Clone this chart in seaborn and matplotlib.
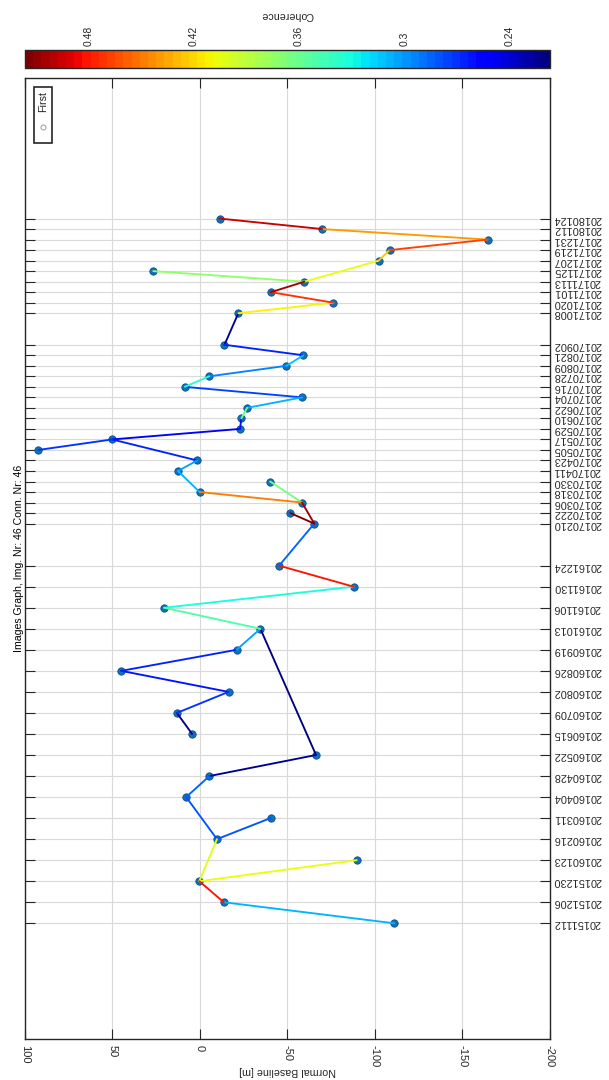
import matplotlib
matplotlib.use("Agg")
import matplotlib as mpl
import matplotlib.pyplot as plt
from matplotlib.patches import Rectangle
from matplotlib.lines import Line2D
import numpy as np
import pandas as pd
import seaborn as sns

# ---- acquisitions: date and normal baseline [m] ----
dates = [
    "20151112", "20151206", "20151230", "20160123", "20160216", "20160311",
    "20160404", "20160428", "20160522", "20160615", "20160709", "20160802",
    "20160826", "20160919", "20161013", "20161106", "20161130", "20161224",
    "20170210", "20170222", "20170306", "20170318", "20170330", "20170411",
    "20170423", "20170505", "20170517", "20170529", "20170610", "20170622",
    "20170704", "20170716", "20170728", "20170809", "20170821", "20170902",
    "20171008", "20171020", "20171101", "20171113", "20171125", "20171207",
    "20171219", "20171231", "20180112", "20180124",
]
baseline = [
    -111.0, -13.6, 0.4, -89.5, -9.7, -40.3,
    7.9, -5.4, -66.3, 4.5, 13.2, -16.3,
    45.0, -20.9, -34.5, 20.5, -87.8, -45.2,
    -65.3, -51.6, -58.3, 0.2, -40.1, 12.6,
    1.6, 92.4, 50.2, -22.9, -23.6, -26.9,
    -58.3, 8.7, -5.2, -49.4, -59.1, -14.0,
    -21.9, -76.2, -40.5, -59.7, 26.7, -102.1,
    -108.3, -164.3, -69.8, -11.2,
]

# ---- interferometric connections and their coherence ----
conn_a = [
    "20151112", "20151206", "20151230", "20151230", "20160216", "20160216",
    "20160404", "20160428", "20160522", "20160615", "20160709", "20160802",
    "20160826", "20160919", "20161013", "20161106", "20161130", "20161224",
    "20170210", "20170210", "20170306", "20170306", "20170318", "20170411",
    "20170423", "20170517", "20170517", "20170529", "20170610", "20170622",
    "20170704", "20170716", "20170728", "20170809", "20170821", "20170902",
    "20171008", "20171020", "20171101", "20171113", "20171113", "20171207",
    "20171219", "20171231", "20180112",
]
conn_b = [
    "20151206", "20151230", "20160123", "20160216", "20160311", "20160404",
    "20160428", "20160522", "20161013", "20160709", "20160802", "20160826",
    "20160919", "20161013", "20161106", "20161130", "20161224", "20170210",
    "20170222", "20170306", "20170318", "20170330", "20170411", "20170423",
    "20170517", "20170505", "20170529", "20170610", "20170622", "20170704",
    "20170716", "20170728", "20170809", "20170821", "20170902", "20171008",
    "20171020", "20171101", "20171113", "20171125", "20171207", "20171219",
    "20171231", "20180112", "20180124",
]
coherence = [
    0.310, 0.479, 0.404, 0.402, 0.281, 0.280,
    0.286, 0.224, 0.217, 0.221, 0.270, 0.260,
    0.265, 0.304, 0.352, 0.330, 0.480, 0.285,
    0.516, 0.505, 0.449, 0.366, 0.310, 0.305,
    0.265, 0.270, 0.253, 0.260, 0.359, 0.310,
    0.275, 0.336, 0.292, 0.315, 0.265, 0.222,
    0.411, 0.471, 0.505, 0.374, 0.404, 0.423,
    0.468, 0.441, 0.494,
]

cbar_ticks = [0.24, 0.30, 0.36, 0.42, 0.48]
cbar_ticklabels = ["0.24", "0.3", "0.36", "0.42", "0.48"]
baseline_ticks = [100, 50, 0, -50, -100, -150, -200]

title = "Images Graph, Img. Nr: 46 Conn. Nr: 46"

# ---- derived tables ----
t = pd.to_datetime(pd.Series(dates), format="%Y%m%d")
day = (t - t.iloc[0]).dt.days.to_numpy()
pos = {d: (b, y) for d, b, y in zip(dates, baseline, day)}

rows = []
for i, (a, b, c) in enumerate(zip(conn_a, conn_b, coherence)):
    for d in (a, b):
        rows.append({"conn": i, "baseline": pos[d][0], "day": pos[d][1], "coherence": c})
segs = pd.DataFrame(rows)
pts = pd.DataFrame({"baseline": baseline, "day": day})

# ---- style ----
sns.set_theme(style="white")
plt.rcParams["font.family"] = ["Liberation Sans", "DejaVu Sans"]
ink = "#262626"

W, H = 609, 1080
fig = plt.figure(figsize=(W / 100, H / 100), dpi=100)
fig.patch.set_facecolor("white")


def fx(px):
    return px / W


def fy(py):
    return 1 - py / H


# main axes
L, R, T, B = 25, 550, 78.3, 1039
ax = fig.add_axes([fx(L), fy(B), fx(R - L), (B - T) / H])

cmap = mpl.colormaps["jet"].resampled(64)
norm = mpl.colors.Normalize(vmin=min(coherence), vmax=max(coherence))

sns.scatterplot(data=pts, x="baseline", y="day", color="#1070b8",
                edgecolor="#0b4f8c", linewidth=0.6, s=28, zorder=3,
                legend=False, ax=ax)
n_before = len(ax.lines)
sns.lineplot(data=segs, x="baseline", y="day", hue="coherence", units="conn",
             estimator=None, sort=False, palette=cmap, hue_norm=norm,
             linewidth=1.35, legend=False, ax=ax)
for ln in ax.lines[n_before:]:
    ln.set_zorder(4)
    ln.set_solid_capstyle("round")

ax.set_xlim(100, -200)
ax.set_ylim(-132, 964)
ax.set_xticks(baseline_ticks)
ax.set_xticklabels([str(v) for v in baseline_ticks])
ax.set_yticks(day)
ax.set_yticklabels(dates)
ax.set_xlabel("")
ax.set_ylabel("")

ax.grid(True, color="#d9d9d9", linewidth=0.8)
ax.set_axisbelow(True)
for s in ax.spines.values():
    s.set_color(ink)
    s.set_linewidth(1.0)

ax.tick_params(axis="x", direction="in", length=7.2, width=0.8, color=ink,
               top=True, bottom=True, labelbottom=True, labeltop=False,
               labelrotation=-90, labelsize=8, labelcolor=ink, pad=4)
ax.tick_params(axis="y", direction="in", length=7.2, width=0.8, color=ink,
               left=True, right=True, labelleft=False, labelright=True,
               labelrotation=180, labelsize=7.8, labelcolor=ink, pad=2.4)
for lab in ax.get_yticklabels():
    lab.set_va("center")
for lab in ax.get_xticklabels():
    lab.set_va("top")
    lab.set_ha("center")

# colorbar
cax = fig.add_axes([fx(25), fy(68.3), fx(550 - 25), (68.3 - 50) / H])
sm = mpl.cm.ScalarMappable(norm=norm, cmap=cmap)
cb = fig.colorbar(sm, cax=cax, orientation="horizontal")
cax.invert_xaxis()
cax.xaxis.set_ticks_position("top")
cb.set_ticks(cbar_ticks)
cb.set_ticklabels(cbar_ticklabels)
cax.tick_params(axis="x", direction="in", length=3.6, width=0.8, color=ink,
                labelrotation=90, labelsize=7.5, labelcolor=ink, pad=3)
cb.outline.set_edgecolor(ink)
cb.outline.set_linewidth(1.0)

# texts
fig.text(fx(19), fy((T + B) / 2), title, rotation=90, ha="center",
         va="center", fontsize=7.6, color="black")
fig.text(fx((L + R) / 2), fy(1071), "Normal Baseline [m]", rotation=180,
         ha="center", va="center", fontsize=7.7, color=ink)
fig.text(fx((L + R) / 2), fy(15), "Coherence", rotation=180,
         ha="center", va="center", fontsize=7.7, color=ink)

# legend box
fig.add_artist(Rectangle((fx(34), fy(143.3)), fx(51.7 - 34), (143.3 - 86.7) / H,
                         transform=fig.transFigure, facecolor="white",
                         edgecolor=ink, linewidth=1.2, zorder=10))
fig.text(fx(43.3), fy(101), "First", rotation=90, ha="center", va="center",
         fontsize=7.7, color=ink, zorder=11)
fig.add_artist(Line2D([fx(42.8)], [fy(127.3)], marker="o", markersize=3.6,
                      markerfacecolor="white", markeredgecolor="#a8a8a8",
                      markeredgewidth=0.8, linestyle="none",
                      transform=fig.transFigure, zorder=11))

fig.savefig("out.png", dpi=100, facecolor="white")
